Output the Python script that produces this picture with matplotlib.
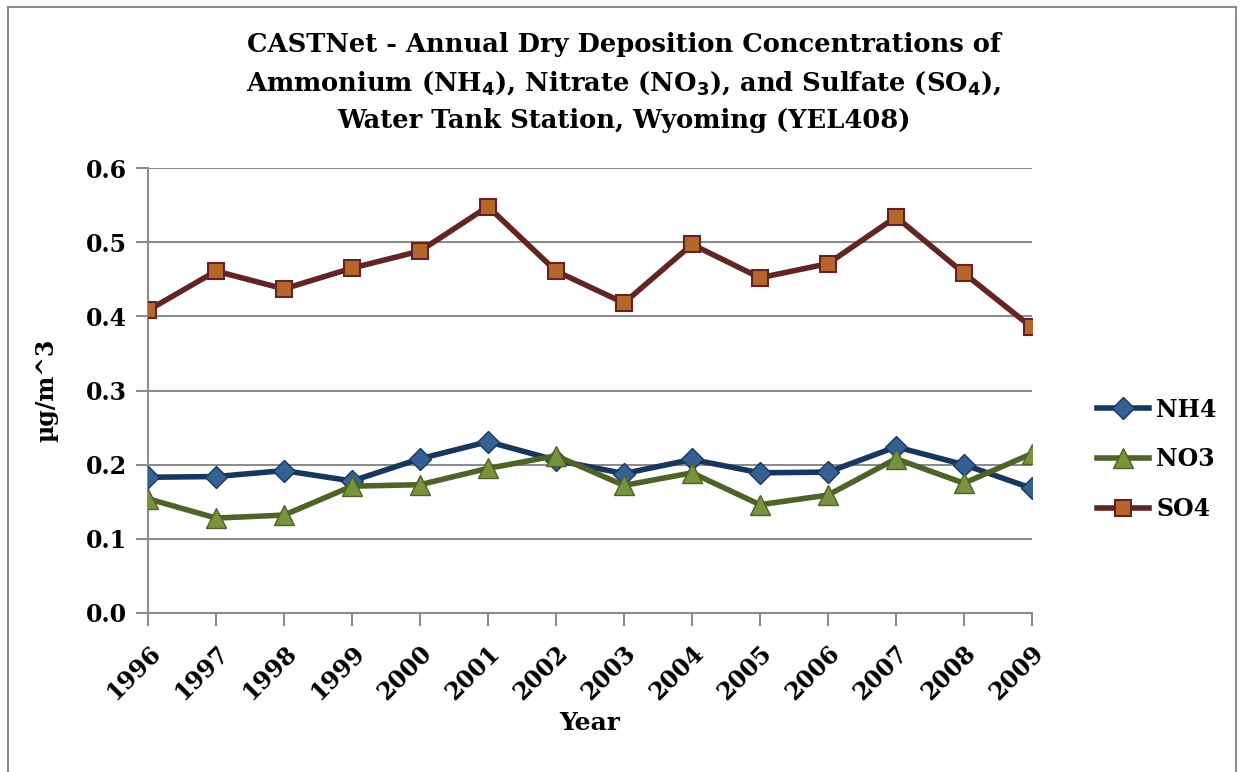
import matplotlib.pyplot as plt
from matplotlib.patches import Rectangle

years = list(range(1996, 2010))
nh4 = [0.183, 0.184, 0.192, 0.178, 0.208, 0.231, 0.206, 0.188, 0.207, 0.189, 0.190, 0.224, 0.200, 0.168]
no3 = [0.154, 0.128, 0.132, 0.171, 0.173, 0.195, 0.212, 0.172, 0.189, 0.146, 0.159, 0.208, 0.175, 0.215]
so4 = [0.408, 0.461, 0.437, 0.465, 0.488, 0.548, 0.461, 0.418, 0.497, 0.452, 0.471, 0.534, 0.458, 0.385]
yticks = [0.0, 0.1, 0.2, 0.3, 0.4, 0.5, 0.6]

plt.rcParams['font.family'] = ['DejaVu Serif']
plt.rcParams['font.weight'] = 'bold'

fig = plt.figure(figsize=(12.41, 7.72), dpi=100)
ax = fig.add_axes([148/1241, 1-613/772, (1032-148)/1241, (613-168)/772])

grid_c = '#8c8c8c'
ax.plot(years, nh4, color='#17375e', lw=4, marker='D', ms=11, mfc='#376092', mec='#17375e', mew=1, label='NH4', zorder=3)
ax.plot(years, no3, color='#4f6228', lw=4, marker='^', ms=14, mfc='#77933c', mec='#4f6228', mew=1, label='NO3', zorder=3)
ax.plot(years, so4, color='#632523', lw=4, marker='s', ms=11, mfc='#b5652e', mec='#632523', mew=1.5, label='SO4', zorder=3)

ax.set_xlim(1996, 2009)
ax.set_ylim(0, 0.6)
ax.set_yticks(yticks)
ax.set_yticklabels(['%.1f' % v for v in yticks], fontsize=17, fontweight='bold')
ax.set_xticks(years)
ax.set_xticklabels([str(y) for y in years], rotation=45, ha='right', rotation_mode='anchor', fontsize=17, fontweight='bold')
ax.yaxis.grid(True, color=grid_c, lw=1.5)
ax.set_axisbelow(True)
for s in ['top', 'right']:
    ax.spines[s].set_visible(False)
for s in ['left', 'bottom']:
    ax.spines[s].set_color(grid_c)
    ax.spines[s].set_linewidth(1.5)
ax.tick_params(axis='both', color=grid_c, width=1.5, length=9, pad=6)
ax.tick_params(axis='x', pad=11)

ax.set_xlabel('Year', fontsize=18, fontweight='bold', labelpad=5)
ax.set_ylabel('µg/m^3', fontsize=17, fontweight='bold', labelpad=20)

fig.suptitle('CASTNet - Annual Dry Deposition Concentrations of\n'
             'Ammonium (NH$_\\mathbf{4}$), Nitrate (NO$_\\mathbf{3}$), and Sulfate (SO$_\\mathbf{4}$),\n'
             'Water Tank Station, Wyoming (YEL408)',
             x=624/1241, y=1-32/772, fontsize=18.5, fontweight='bold', linespacing=1.55, va='top')

leg = ax.legend(loc='center left', bbox_to_anchor=(1.05, 0.345), frameon=False,
                prop={'size': 17, 'weight': 'bold'}, handlelength=2.2, labelspacing=1.1, handletextpad=0.3)

fig.patches.append(Rectangle((8/1241, -0.01), 1228/1241, 1.01-7/772, transform=fig.transFigure,
                             fill=False, edgecolor='#8c8c8c', lw=1.5))

fig.savefig('out.png', dpi=100)
